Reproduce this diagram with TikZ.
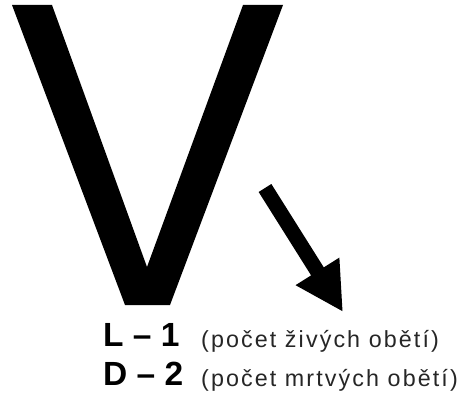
\documentclass[tikz,border=0pt]{standalone}
\usepackage{fontspec}
\setmainfont{Liberation Sans}
\newfontfamily\notefont[LetterSpace=9]{Liberation Sans}
\usetikzlibrary{arrows.meta}
\begin{document}
\begin{tikzpicture}[
    x=1pt, y=-1pt,
    bigletter/.style={fill=black, draw=none},
    bigarrow/.style={-{Triangle[length=48pt, width=48pt]}, line width=15pt, black},
    count/.style={anchor=base west, inner sep=0pt, font=\fontsize{33.5}{40}\selectfont\bfseries},
    note/.style={anchor=base west, inner sep=0pt, text=black!85, font=\fontsize{23.3}{28}\selectfont\notefont}
]
\useasboundingbox (0,0) rectangle (473,396);

% --- Letter V ---
\fill[bigletter] (12,5) -- (52,5) -- (147,267) -- (243,5) -- (283,5) -- (170,305) -- (125,305) -- cycle;

% --- Arrow ---
\coordinate (tail) at (265,188);
\coordinate (tip) at (343,312);
\draw[bigarrow] (tail) -- (tip);

% --- Legend ---
\node[count] (L) at (103,346) {L -- 1};
\node[note] (Lnote) at (201,347) {(počet živých obětí)};
\node[count] (D) at (103,385) {D -- 2};
\node[note] (Dnote) at (201,386) {(počet mrtvých obětí)};

\end{tikzpicture}
\end{document}
